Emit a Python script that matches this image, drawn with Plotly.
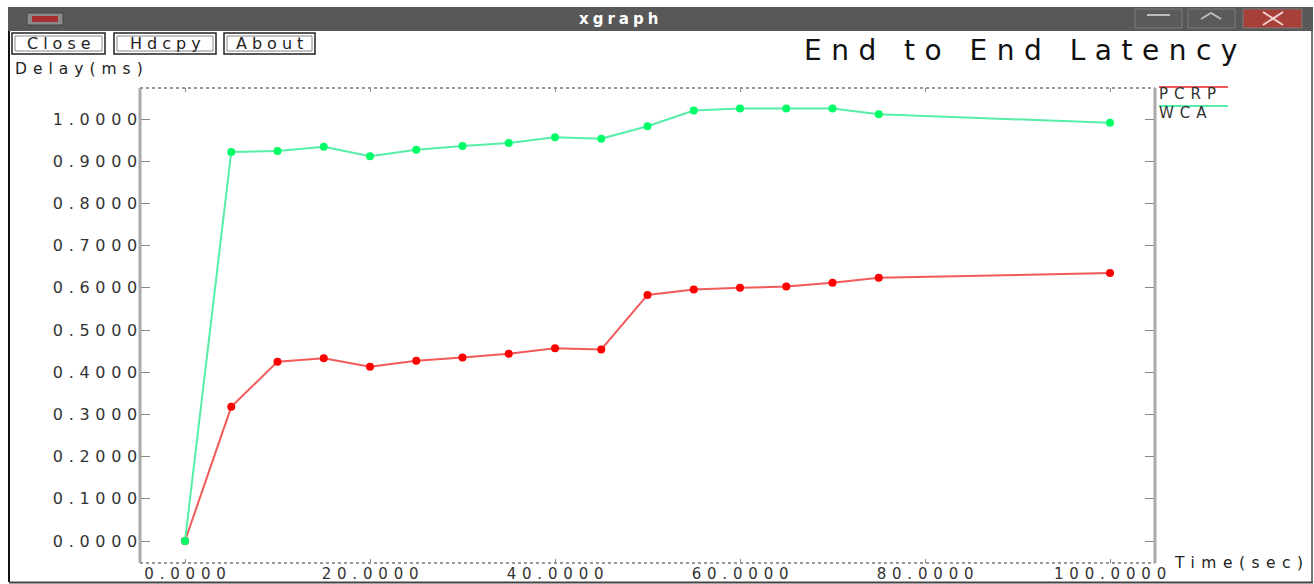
import plotly.graph_objects as go

W, H = 1314, 584

# ---------------- data ----------------
time_sec = [0, 5, 10, 15, 20, 25, 30, 35, 40, 45, 50, 55, 60, 65, 70, 75, 100]
pcrp_delay = [0.0, 0.318, 0.425, 0.433, 0.413, 0.427, 0.435, 0.444, 0.457, 0.454,
              0.583, 0.596, 0.600, 0.603, 0.612, 0.624, 0.635]
wca_delay = [0.0, 0.922, 0.924, 0.934, 0.912, 0.927, 0.936, 0.943, 0.957, 0.953,
             0.983, 1.020, 1.025, 1.025, 1.025, 1.011, 0.991]
series_names = ["PCRP", "WCA"]
x_tick_vals = [0, 20, 40, 60, 80, 100]
x_tick_labels = ["0.0000", "20.0000", "40.0000", "60.0000", "80.0000", "100.0000"]
y_tick_vals = [0.0, 0.1, 0.2, 0.3, 0.4, 0.5, 0.6, 0.7, 0.8, 0.9, 1.0]
y_tick_labels = ["0.0000", "0.1000", "0.2000", "0.3000", "0.4000", "0.5000",
                 "0.6000", "0.7000", "0.8000", "0.9000", "1.0000"]
chart_title = "End to End Latency"
x_label = "Time(sec)"
y_label = "Delay(ms)"
window_title = "xgraph"
button_labels = ["Close", "Hdcpy", "About"]

# ---------------- styling ----------------
FONT = "DejaVu Sans"
line_colors = ["#f25a5a", "#55eea6"]
marker_colors = ["#ff0000", "#00ff66"]


def px(x):
    return x / W


def py(y):
    return 1 - y / H


def sp(text, ls):
    return f'<span style="letter-spacing:{ls}px">{text}</span>'


# plot area in pixels
PL, PR, PT, PB = 140, 1155, 88, 563

fig = go.Figure()
for name, ys, lc, mc in zip(series_names, [pcrp_delay, wca_delay], line_colors, marker_colors):
    fig.add_trace(go.Scatter(
        x=time_sec, y=ys, name=name, mode="lines+markers",
        line=dict(color=lc, width=2),
        marker=dict(color=mc, size=8, symbol="circle"),
        showlegend=False,
    ))

shapes = []
annotations = []

# window title bar
shapes.append(dict(type="rect", xref="paper", yref="paper", x0=px(8), x1=px(1313), y0=py(31), y1=py(7),
                   fillcolor="#585858", line=dict(width=0), layer="below"))
# icon
shapes.append(dict(type="rect", xref="paper", yref="paper", x0=px(27), x1=px(63), y0=py(25), y1=py(13),
                   fillcolor="#8a8a8a", line=dict(color="#444", width=1), layer="above"))
shapes.append(dict(type="rect", xref="paper", yref="paper", x0=px(32), x1=px(58), y0=py(22), y1=py(16),
                   fillcolor="#a83030", line=dict(width=0), layer="above"))
# title bar buttons
for x0, x1 in [(1135, 1182), (1188, 1235)]:
    shapes.append(dict(type="rect", xref="paper", yref="paper", x0=px(x0), x1=px(x1), y0=py(28), y1=py(9),
                       fillcolor="#5a5a5a", line=dict(color="#7a7a7a", width=1), layer="above"))
shapes.append(dict(type="line", xref="paper", yref="paper", x0=px(1147), x1=px(1170), y0=py(15), y1=py(15),
                   line=dict(color="#bbbbbb", width=2), layer="above"))
shapes.append(dict(type="path", xref="paper", yref="paper",
                   path=f"M {px(1201)},{py(19)} L {px(1211)},{py(13)} L {px(1221)},{py(19)}",
                   line=dict(color="#bbbbbb", width=2), layer="above"))
shapes.append(dict(type="rect", xref="paper", yref="paper", x0=px(1243), x1=px(1302), y0=py(28), y1=py(9),
                   fillcolor="#a8403a", line=dict(color="#7a7a7a", width=1), layer="above"))
shapes.append(dict(type="line", xref="paper", yref="paper", x0=px(1263), x1=px(1283), y0=py(12), y1=py(25),
                   line=dict(color="#f0d0d0", width=2), layer="above"))
shapes.append(dict(type="line", xref="paper", yref="paper", x0=px(1263), x1=px(1283), y0=py(25), y1=py(12),
                   line=dict(color="#f0d0d0", width=2), layer="above"))

annotations.append(dict(text=sp("<b>" + window_title + "</b>", 4), xref="paper", yref="paper",
                        x=px(620), y=py(19), xanchor="center", yanchor="middle", showarrow=False,
                        font=dict(family=FONT, size=15, color="#ffffff")))

# window borders
shapes.append(dict(type="line", xref="paper", yref="paper", x0=px(9), x1=px(9), y0=py(31), y1=py(582),
                   line=dict(color="#111111", width=2), layer="above"))
shapes.append(dict(type="line", xref="paper", yref="paper", x0=px(1312), x1=px(1312), y0=py(31), y1=py(582),
                   line=dict(color="#777777", width=2), layer="above"))
shapes.append(dict(type="line", xref="paper", yref="paper", x0=px(9), x1=px(1313), y0=py(582.5), y1=py(582.5),
                   line=dict(color="#444444", width=2), layer="above"))

# xgraph buttons
for label, (x0, x1) in zip(button_labels, [(12, 105), (114, 216), (224, 315)]):
    shapes.append(dict(type="rect", xref="paper", yref="paper", x0=px(x0), x1=px(x1), y0=py(54), y1=py(33),
                       fillcolor="#ffffff", line=dict(color="#222222", width=1.5), layer="above"))
    shapes.append(dict(type="rect", xref="paper", yref="paper", x0=px(x0 + 3), x1=px(x1 - 3), y0=py(51),
                       y1=py(36), fillcolor="rgba(0,0,0,0)", line=dict(color="#888888", width=1), layer="above"))
    annotations.append(dict(text=sp(label, 5), xref="paper", yref="paper", x=px((x0 + x1) / 2 + 2.5),
                            y=py(43.5), xanchor="center", yanchor="middle", showarrow=False,
                            font=dict(family=FONT, size=16, color="#222222")))

# axis labels and title
annotations.append(dict(text=sp(y_label, 6), xref="paper", yref="paper", x=px(13), y=py(69),
                        xanchor="left", yanchor="middle", showarrow=False,
                        font=dict(family=FONT, size=15.5, color="#222222")))
annotations.append(dict(text=sp(x_label, 6.5), xref="paper", yref="paper", x=px(1172), y=py(563),
                        xanchor="left", yanchor="middle", showarrow=False,
                        font=dict(family=FONT, size=15.5, color="#222222")))
annotations.append(dict(text=sp(chart_title, 9.5), xref="paper", yref="paper", x=px(1025), y=py(50),
                        xanchor="center", yanchor="middle", showarrow=False,
                        font=dict(family=FONT, size=28, color="#111111")))

# legend (line above text, xgraph style)
for name, lc, ty, ly in zip(series_names, line_colors, [94, 113], [87, 106]):
    shapes.append(dict(type="line", xref="paper", yref="paper", x0=px(1159), x1=px(1228), y0=py(ly), y1=py(ly),
                       line=dict(color=lc, width=2), layer="above"))
    annotations.append(dict(text=sp(name, 6), xref="paper", yref="paper", x=px(1157), y=py(ty),
                            xanchor="left", yanchor="middle", showarrow=False,
                            font=dict(family=FONT, size=15, color="#333333")))

# plot frame: solid sides, dotted top/bottom
shapes.append(dict(type="line", xref="x domain", yref="y domain", x0=0, x1=0, y0=0, y1=1,
                   line=dict(color="#aaaaaa", width=3), layer="above"))
shapes.append(dict(type="line", xref="x domain", yref="y domain", x0=1, x1=1, y0=0, y1=1,
                   line=dict(color="#aaaaaa", width=3), layer="above"))
for yy in [0, 1]:
    shapes.append(dict(type="line", xref="x domain", yref="y domain", x0=0, x1=1, y0=yy, y1=yy,
                       line=dict(color="#999999", width=2, dash="dot"), layer="above"))

# x range so that x=0 -> 185px, x=100 -> 1110px
xs = (1110 - 185) / 100.0
x_range = [(PL - 185) / xs, (PR - 185) / xs]
# y range so that y=0 -> 541px, y=1 -> 119px
ys_ = (541 - 119) / 1.0
y_range = [-(PB - 541) / ys_, 1 + (119 - PT) / ys_]

fig.update_layout(
    width=W, height=H,
    margin=dict(l=0, r=0, t=0, b=0),
    paper_bgcolor="#ffffff", plot_bgcolor="#ffffff",
    showlegend=False,
    shapes=shapes, annotations=annotations,
    xaxis=dict(
        domain=[px(PL), px(PR)], range=x_range, automargin=False,
        tickvals=x_tick_vals, ticktext=[sp(t, 5.8) for t in x_tick_labels],
        ticks="inside", ticklen=4, tickcolor="#888888", mirror="ticks",
        showline=False, showgrid=False, zeroline=False,
        tickfont=dict(family=FONT, size=15, color="#333333"),
        ticklabelstandoff=0, ticklabelshift=3,
    ),
    yaxis=dict(
        domain=[1 - PB / H, 1 - PT / H], range=y_range, automargin=False,
        tickvals=y_tick_vals, ticktext=[sp(t, 5.7) for t in y_tick_labels],
        ticks="inside", ticklen=10, tickcolor="#888888", mirror="ticks",
        showline=False, showgrid=False, zeroline=False,
        tickfont=dict(family=FONT, size=16, color="#333333"),
        ticklabelstandoff=-4,
    ),
)

fig.write_html("out.html")
